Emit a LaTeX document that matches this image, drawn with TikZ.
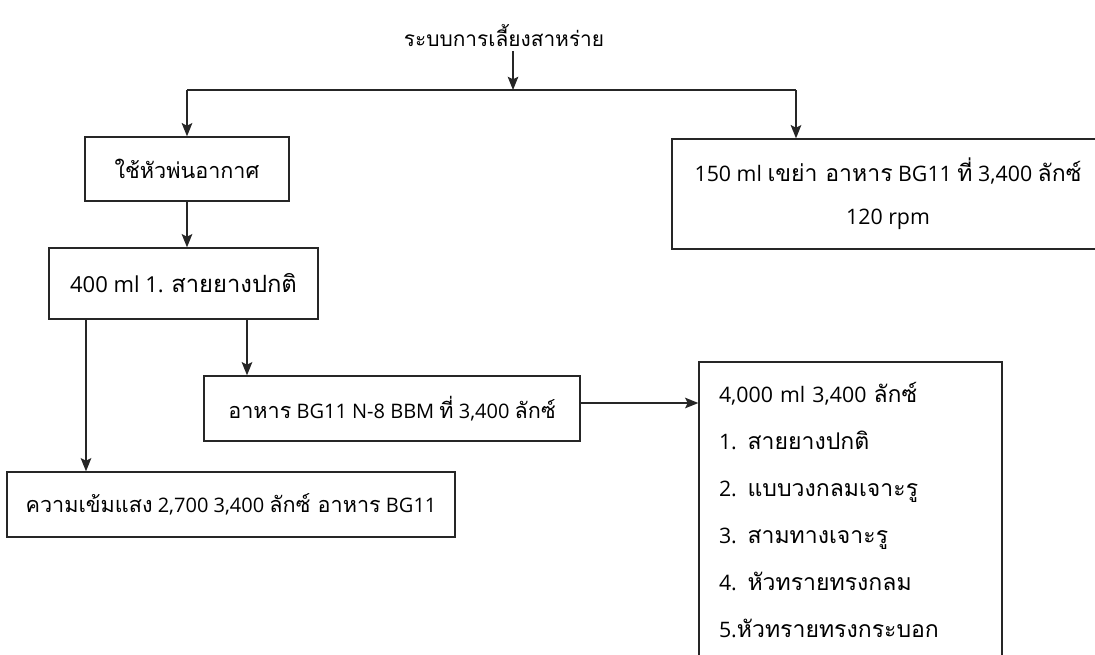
\documentclass[tikz,border=0pt]{standalone}
\usepackage{fontspec}
\setmainfont{Open Sans}
\newfontfamily\thai[Script=Thai,Scale=1.08]{Loma}
\usetikzlibrary{arrows.meta}

\begin{document}
\begin{tikzpicture}[x=0.75pt,y=-0.75pt,
    box/.style={draw=black!85, line width=1pt, inner sep=0pt, font=\fontsize{15}{20}\selectfont},
    ->/.style={-{Stealth[length=10pt,width=8pt,inset=2pt]}, draw=black!85, line width=0.9pt}]
            \useasboundingbox (0,0) rectangle (1095,654);

            % Root node
            \node (title) at (504,35) {\fontsize{14.5}{20}\selectfont\thai ระบบการเลี้ยงสาหร่าย};
            \coordinate (split) at (513,90);
            \coordinate (splitL) at (187,90);
            \coordinate (splitR) at (796,90);
            \draw[->] (title.south -| split) -- (split);
            \draw[line width=1pt, black!85] (splitL) -- (splitR);

            % Second stage nodes
            \node[box, minimum width=153pt, minimum height=48pt] (air) at (187,169) {\thai ใช้หัวพ่นอากาศ};
            \draw[->] (splitL) -- (air.north);

            \node[box, minimum width=324pt, minimum height=82.5pt, align=center,
                  font=\fontsize{16}{32}\selectfont] (shake) at (888,194)
                  {150 ml {\thai เขย่า อาหาร} BG11 {\thai ที่} 3,400 {\thai ลักซ์}\\120 rpm};
            \draw[->] (splitR) -- (splitR |- shake.north);

            % Third stage nodes
            \node[box, minimum width=201.75pt, minimum height=53.25pt, font=\fontsize{16.5}{20}\selectfont] (hose) at (183.5,283.5) {400 ml 1. {\thai สายยางปกติ}};
            \draw[->] (air.south -| splitL) -- (hose.north -| splitL);

            % Fourth stage nodes
            \node[box, minimum width=282pt, minimum height=48.75pt] (medium) at (392,408.5) {{\thai อาหาร} BG11 N-8 BBM {\thai ที่} 3,400 {\thai ลักซ์}};
            \draw[->] (hose.south -| 247,0) -- (medium.north -| 247,0);

            \node[box, minimum width=336pt, minimum height=48.75pt] (light) at (231,504.5) {{\thai ความเข้มแสง} 2,700 3,400 {\thai ลักซ์ อาหาร} BG11};
            \draw[->] (hose.south -| 86,0) -- (light.north -| 86,0);

            % Fifth stage nodes
            \node[box, minimum width=227.25pt, minimum height=222pt, text width=197.25pt, align=left,
                  font=\fontsize{16}{35.25}\selectfont] (list) at (850.5,510)
                  {4,000 ml 3,400 {\thai ลักซ์}\\1. {\thai สายยางปกติ}\\2. {\thai แบบวงกลมเจาะรู}\\3. {\thai สามทางเจาะรู}\\4. {\thai หัวทรายทรงกลม}\\5.{\thai หัวทรายทรงกระบอก}};
            \draw[->] (medium.east |- 0,403) -- (list.west |- 0,403);
\end{tikzpicture}
\end{document}
